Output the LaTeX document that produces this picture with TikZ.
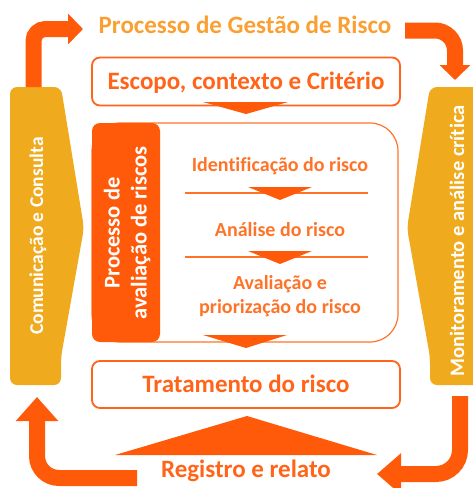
\documentclass[tikz,border=0pt]{standalone}
\usepackage{fontspec}
\setmainfont{Carlito}[Ligatures=NoCommon]
\usepackage{tikz}
\usetikzlibrary{arrows.meta, positioning}
\usepackage{xcolor}

\definecolor{riskred}{RGB}{255,90,10}
\definecolor{risktitle}{RGB}{250,160,50}
\definecolor{riskgold}{RGB}{240,170,30}
\definecolor{risktext}{RGB}{255,100,25}
\definecolor{risklight}{RGB}{255,115,40}

\begin{document}
\begin{tikzpicture}[x=1pt,y=-1pt,font=\bfseries]
  \tikzstyle{stagebox}=[draw=risktext,line width=1.8pt,rounded corners=8pt,
    minimum width=308pt,minimum height=48pt,inner sep=0pt,
    text height=16pt,text depth=0pt,text=risktext,
    font=\fontsize{25}{30}\selectfont\bfseries]
  \tikzstyle{bigtext}=[inner sep=0pt,anchor=base,
    font=\fontsize{25}{30}\selectfont\bfseries]
  \tikzstyle{steptext}=[inner sep=0pt,anchor=base,text=risklight,align=center,
    font=\fontsize{20}{24}\selectfont\bfseries]
  \tikzstyle{bartext}=[inner sep=0pt,rotate=90,text=white]
  \tikzstyle{loopflow}=[draw=riskred,line width=16pt]
  \tikzstyle{pointer}=[fill=riskred]

  \useasboundingbox (0,0) rectangle (473,488);

  % side bars
  \fill[riskgold,rounded corners=7pt] (10,87) -- (61,87) -- (84,228)
    -- (61,357) -- (61,385) -- (10,385) -- cycle;
  \fill[riskgold,rounded corners=7pt] (430,87) -- (481,87) -- (481,385)
    -- (430,385) -- (430,357) -- (407,228) -- cycle;
  \node[bartext,font=\fontsize{19.5}{24}\selectfont\bfseries] (comm) at (38,236)
    {Comunicação e Consulta};
  \node[bartext,font=\fontsize{20.5}{24}\selectfont\bfseries] (monit) at (457,241)
    {Monitoramento e análise crítica};

  % title and boxes
  \node[bigtext,text=risktitle] (title) at (245,33) {Processo de Gestão de Risco};
  \node[stagebox] (scope) at (246,81.5) {Escopo, contexto e Critério};
  \node[draw=risklight,line width=1.2pt,rounded corners=28pt,
    minimum width=306pt,minimum height=219pt] (assess) at (245,232.5) {};
  \node[fill=riskred,rounded corners=8pt,minimum width=68pt,minimum height=219pt,
    inner sep=0pt] (avalbox) at (126,232.5) {};
  \node[bartext,align=center,font=\fontsize{22.5}{27}\selectfont\bfseries]
    (avaltext) at (127,233) {Processo de\\avaliação de riscos};
  \node[stagebox,minimum height=47pt] (treat) at (246,384.5) {Tratamento do risco};
  \node[bigtext,text=risktext] (report) at (246,477) {Registro e relato};

  % steps
  \node[steptext] (ident) at (280,171) {Identificação do risco};
  \node[steptext] (anal)  at (280,236) {Análise do risco};
  \node[steptext] (evalp) at (280,313) {Avaliação e\\priorização do risco};

  \draw[risklight,line width=1.2pt] (185,193) -- (368,193);
  \draw[risklight,line width=1.2pt] (185,257) -- (368,257);

  \fill[pointer] (203,102) -- (288,102) -- (246,114) -- cycle;
  \fill[pointer] (248,187) -- (312,187) -- (280,200) -- cycle;
  \fill[pointer] (248,251) -- (312,251) -- (280,264) -- cycle;
  \fill[pointer] (203,335) -- (287,335) -- (246,348) -- cycle;
  \fill[pointer] (115,455) -- (247,416) -- (377,455) -- cycle;

  % loop arrows
  \coordinate (commtop)  at (33.5,87);
  \coordinate (titlein)  at (83,29);
  \coordinate (titleout) at (405,30.5);
  \coordinate (monittop) at (455,80);
  \coordinate (monitbot) at (460,396);
  \coordinate (reportin) at (377,474);
  \coordinate (reportout) at (137,478);
  \coordinate (commbot)  at (37,397);

  \draw[loopflow,rounded corners=12pt,-{Triangle[length=15pt,width=30pt]}]
    (commtop) |- (titlein);
  \draw[loopflow,rounded corners=20pt,-{Triangle[length=15pt,width=30pt]}]
    (titleout) -| (monittop);
  \draw[loopflow,rounded corners=24pt,-{Triangle[length=24pt,width=40pt]}]
    (monitbot) |- (reportin);
  \draw[loopflow,rounded corners=22pt,-{Triangle[length=24pt,width=41pt]}]
    (reportout) -| (commbot);
\end{tikzpicture}
\end{document}
